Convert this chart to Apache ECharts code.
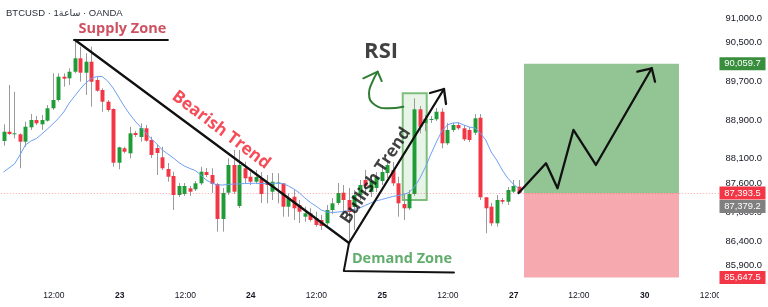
<!DOCTYPE html>
<html>
<head>
<meta charset="utf-8">
<script src="https://cdn.jsdelivr.net/npm/echarts@6.0.0/dist/echarts.min.js"></script>
<style>
html,body{margin:0;padding:0;background:#fff;}
#chart{width:768px;height:307px;}
</style>
</head>
<body>
<div id="chart"></div>
<script>
// ---------- DATA ----------
const slotCount = 131; // hourly slots across the visible time range
const categories = Array.from({length: slotCount}, (_, i) => 'h' + i);

const opens = [88466,88658,88611,88605,88452,88749,88900,88811,88886,89142,89313,89794,89761,89897,90174,89877,90104,89726,89520,89278,89127,88018,88316,88212,88632,88549,88729,88487,88322,88130,87888,87744,87351,87372,87490,87469,87593,87826,87764,87579,86856,87399,87971,87124,87903,87729,87626,87682,87599,87420,87589,87593,87110,87316,87145,86903,86974,86870,86835,86767,87042,87186,87399,87248,87104,87351,87661,87413,87496,87640,87806,87868,87593,87166,87077,87372,89121,88838,88900,88915,89071,88419,88694,88797,88729,88694,88638,88947,87304,87110,86767,87248,87213,87420,87523];
const closes = [88658,88611,88625,88452,88762,88900,88832,88900,89142,89313,89794,89753,89897,90174,89877,90104,89691,89505,89278,89107,88018,88336,88245,88625,88590,88735,88473,88177,88219,87903,87729,87351,87537,87537,87420,87593,87833,87764,87579,86856,87393,87971,87420,87971,87696,87626,87723,87372,87558,87626,87610,87110,87283,87077,87007,86974,86835,86732,86711,87042,87180,87393,87248,87000,87351,87558,87537,87640,87723,87826,87971,87593,87180,87077,87372,89121,88762,88921,88921,89071,88419,88694,88797,88729,88501,88487,88935,87304,87077,86767,87248,87213,87455,87537,87393.5];
const highs = [88811,89623,89484,88625,88865,89024,88983,89003,89210,89864,89864,89864,89968,90552,90414,90277,90414,89794,89555,89313,89142,88349,88349,88762,88673,88832,88797,88555,88384,88349,88012,87833,87599,87599,87537,87640,87936,87909,87903,87599,87496,88109,88281,88281,88039,87833,87868,87826,87764,87806,87800,87599,87386,87455,87248,87110,87077,87007,86938,87145,87289,87599,87558,87496,87455,87661,87868,87764,87826,87971,88074,88033,87729,87386,87455,89348,89189,89003,88983,89148,89142,88838,88838,88859,88797,88755,89024,89024,87310,87186,87351,87289,87517,87661,87661];
const lows = [88369,88590,88522,87903,88349,88694,88797,88694,88865,89107,89278,89588,89623,89864,89691,89416,89175,89484,89071,89071,87936,87882,88212,88109,88549,88452,88452,88115,87764,87868,87626,87042,87310,87331,87331,87434,87558,87723,87393,86594,86594,87351,87372,87083,87593,87558,87579,87186,87180,87248,87180,86903,86903,86835,86773,86800,86800,86697,86629,86691,86959,87145,86938,86360,86629,87248,87351,87310,87413,87558,87702,87537,86903,86835,87042,87331,88625,88673,88838,88879,88316,88384,88652,88694,88466,88446,88590,87248,86561,86711,86697,87166,87145,87393,87393];
const ema = [87826,87909,87992,88177,88384,88466,88518,88611,88714,88817,88931,89065,89251,89396,89540,89664,89757,89798,89798,89705,89561,89375,89189,89024,88879,88755,88632,88508,88404,88281,88198,88115,88022,87950,87899,87857,87764,87661,87599,87558,87558,87568,87579,87579,87589,87593,87593,87589,87589,87593,87593,87589,87537,87475,87393,87289,87197,87124,87042,87000,86990,87000,87011,87031,87052,87083,87135,87186,87228,87258,87289,87320,87341,87362,87403,87517,87702,87930,88198,88446,88673,88797,88838,88844,88797,88755,88735,88632,88487,88239,88074,87868,87702,87579,87486];

const yTickValues = [91000, 90500, 89700, 88900, 88100, 87600, 87000, 86400, 85900];
const xTickPos = [9.2, 21.2, 33.2, 45.1, 57.1, 69.1, 81.1, 93.1, 105.0, 117.0, 129.0];
const xTickText = ['12:00','23','12:00','24','12:00','25','12:00','27','12:00','30','12:00'];

// price-scale tags
const lastPrice = 87393.5;
const maPrice = 87379.2;
const targetPrice = 90059.7;
const stopPrice = 85647.5;

// annotations (data coordinates: slot index, price)
const supplyLine = [[12.86, 90552], [30.0, 90552]];
const bearishLine = [[13.05, 90552], [63.05, 86360]];
const demandLine = [[63.05, 86360], [62.1, 85782], [82.2, 85751]];
const bullishLine = [[63.05, 86360], [80.38, 89540]];
const bullishHead = [[77.83, 89458], [80.38, 89540], [80.75, 89231]];
const targetPath = [[94, 87393.5], [99.0, 88006], [101.1, 87490], [104.0, 88694], [108.1, 87971], [118.3, 89968]];
const targetHead = [[115.66, 89898], [118.3, 89968], [118.89, 89691]];
const rsiCurve = [[72.96, 89175], [70.22, 89142], [67.79, 89210], [66.70, 89452], [67.19, 89658], [68.28, 89898]];
const rsiHead = [[65.66, 89761], [68.28, 89898], [69.01, 89705]];
const targetBox = [[94.98, targetPrice], [123.27, lastPrice]];
const stopBox = [[94.98, lastPrice], [123.27, stopPrice]];
const rsiBox = [[72.85, 89451], [77.23, 87248]];

const textNotes = [
  {text: 'Supply Zone', pos: [21.7, 90779], color: '#c0263a', size: 14.5, weight: 'bold', rotate: 0},
  {text: 'Bearish Trend', pos: [39.7, 88694], color: '#f41f2e', size: 17, weight: 'bold', rotate: -37},
  {text: 'Bullish Trend', pos: [67.94, 87748], color: '#111111', size: 17, weight: 'bold', rotate: 56},
  {text: 'Demand Zone', pos: [72.72, 86040], color: '#389847', size: 14.5, weight: 'bold', rotate: 0},
  {text: 'RSI', pos: [68.9, 90315], color: '#111111', size: 22, weight: 'bold', rotate: 0}
];

// ---------- CHART ----------
const GREEN = '#1f9c38', RED = '#f23645', WICK = '#9a9a9a';
const chart = echarts.init(document.getElementById('chart'), null, {renderer: 'canvas'});

const fmtPrice = v => Number(v).toLocaleString('en-US', {minimumFractionDigits: 1, maximumFractionDigits: 1});

function renderCandle(params, api) {
  const x = api.value(0);
  const o = api.value(1), c = api.value(2), l = api.value(3), h = api.value(4);
  const po = api.coord([x, o]), pc = api.coord([x, c]);
  const pl = api.coord([x, l]), ph = api.coord([x, h]);
  const w = api.size([1, 0])[0] * 0.72;
  const cx = Math.round(po[0]) + 0.5;
  const top = Math.min(po[1], pc[1]);
  const hgt = Math.max(Math.abs(po[1] - pc[1]), 1);
  const col = c >= o ? GREEN : RED;
  return {
    type: 'group',
    children: [
      {type: 'line', shape: {x1: cx, y1: ph[1], x2: cx, y2: pl[1]}, style: {stroke: WICK, lineWidth: 1}},
      {type: 'rect', shape: {x: cx - w / 2, y: top, width: w, height: hgt}, style: {fill: col}}
    ]
  };
}

function annoLine(data, color, width, z, smooth) {
  return {
    type: 'line', xAxisIndex: 1, yAxisIndex: 0, data: data,
    symbol: 'none', smooth: smooth || false, silent: true, animation: false, z: z || 5,
    lineStyle: {color: color, width: width, cap: 'round', join: 'round'}
  };
}

const option = {
  animation: false,
  backgroundColor: '#ffffff',
  grid: {left: 0.76, right: 49.36, top: 0, bottom: 22, containLabel: false},
  xAxis: [
    {type: 'category', data: categories, boundaryGap: true, show: false},
    {
      type: 'value', min: -0.5, max: slotCount - 0.5, position: 'bottom',
      axisLine: {show: false}, axisTick: {show: false}, splitLine: {show: false},
      axisLabel: {
        customValues: xTickPos, margin: 6, color: '#131722', fontSize: 8.5,
        fontFamily: 'Liberation Sans, Arial, sans-serif',
        formatter: v => {
          let best = 0;
          xTickPos.forEach((p, i) => { if (Math.abs(p - v) < Math.abs(xTickPos[best] - v)) best = i; });
          const t = xTickText[best];
          return t.indexOf(':') >= 0 ? t : '{b|' + t + '}';
        },
        rich: {b: {fontWeight: 'bold', fontSize: 8.5, color: '#131722', fontFamily: 'Liberation Sans, Arial, sans-serif'}}
      }
    }
  ],
  yAxis: {
    type: 'value', min: 85493, max: 91378, position: 'right', scale: true,
    axisLine: {show: false}, axisTick: {show: false}, splitLine: {show: false},
    axisLabel: {
      customValues: yTickValues, align: 'right', margin: 43.4,
      color: '#131722', fontSize: 9.4, fontFamily: 'Liberation Sans, Arial, sans-serif',
      formatter: v => fmtPrice(v)
    }
  },
  series: [
    {
      type: 'line', xAxisIndex: 1, yAxisIndex: 0, data: [], symbol: 'none', silent: true, z: 1,
      markArea: {
        silent: true,
        data: [
          [{coord: targetBox[0], itemStyle: {color: '#93c594'}}, {coord: targetBox[1]}],
          [{coord: stopBox[0], itemStyle: {color: '#f7a9b0'}}, {coord: stopBox[1]}],
          [{coord: rsiBox[0], itemStyle: {color: 'rgba(150,205,150,0.22)', borderColor: '#7cbf7c', borderWidth: 2}}, {coord: rsiBox[1]}]
        ]
      }
    },
    {
      type: 'custom', xAxisIndex: 0, yAxisIndex: 0, z: 2,
      renderItem: renderCandle,
      encode: {x: 0, y: [1, 2, 3, 4]},
      data: opens.map((o, i) => [i, o, closes[i], lows[i], highs[i]]),
      markLine: {
        silent: true, symbol: 'none', label: {show: false},
        lineStyle: {type: [1, 2], color: 'rgba(242,54,69,0.45)', width: 1},
        data: [{yAxis: lastPrice}]
      }
    },
    {
      type: 'line', xAxisIndex: 0, yAxisIndex: 0, data: ema, symbol: 'none', z: 3, silent: true,
      lineStyle: {color: '#6fa0f4', width: 1}
    },
    annoLine(supplyLine, '#111111', 2),
    annoLine(bearishLine, '#111111', 2.3),
    annoLine(demandLine, '#111111', 2),
    annoLine(bullishLine, '#111111', 2.3),
    annoLine(bullishHead, '#111111', 2.3),
    annoLine(targetPath, '#111111', 2.3),
    annoLine(targetHead, '#111111', 2.3),
    annoLine(rsiCurve, '#2e7d32', 2, 5, 0.5),
    annoLine(rsiHead, '#2e7d32', 2),
    {
      type: 'scatter', xAxisIndex: 1, yAxisIndex: 0, symbolSize: 0, z: 6, silent: true,
      itemStyle: {color: 'rgba(0,0,0,0)'},
      data: textNotes.map(n => ({
        value: n.pos,
        label: {
          show: true, position: 'inside', formatter: n.text, color: n.color,
          fontSize: n.size, fontWeight: n.weight, fontFamily: 'Open Sans, sans-serif',
          rotate: n.rotate, align: 'center', verticalAlign: 'middle'
        }
      }))
    }
  ]
};
chart.setOption(option);

// price-scale tags placed through the y axis scale
function tag(value, y, bg) {
  return {
    type: 'group', z: 110,
    children: [
      {type: 'rect', shape: {x: 719.5, y: y - 6.5, width: 46, height: 13}, style: {fill: bg}, z: 110},
      {type: 'text', x: 742.5, y: y, style: {text: fmtPrice(value), fill: '#ffffff', fontSize: 9.4,
        fontFamily: 'Liberation Sans, Arial, sans-serif', align: 'center', verticalAlign: 'middle'}, z: 111}
    ]
  };
}
const yT = chart.convertToPixel({yAxisIndex: 0}, targetPrice);
const yL = chart.convertToPixel({yAxisIndex: 0}, lastPrice);
const yS = chart.convertToPixel({yAxisIndex: 0}, stopPrice);
chart.setOption({
  graphic: [
    {type: 'rect', z: 100, shape: {x: 719, y: 287, width: 49, height: 20}, style: {fill: '#ffffff'}},
    {type: 'text', z: 100, x: 6, y: 13, style: {text: 'BTCUSD · 1ساعة · OANDA', fill: '#2a2e39', fontSize: 9.5,
      fontFamily: 'Liberation Sans, DejaVu Sans, sans-serif', verticalAlign: 'middle'}},
    tag(targetPrice, yT, '#388e3c'),
    tag(lastPrice, yL, '#f23645'),
    tag(maPrice, yL + 13.5, '#808080'),
    tag(stopPrice, yS, '#f23645')
  ]
});
</script>
</body>
</html>
